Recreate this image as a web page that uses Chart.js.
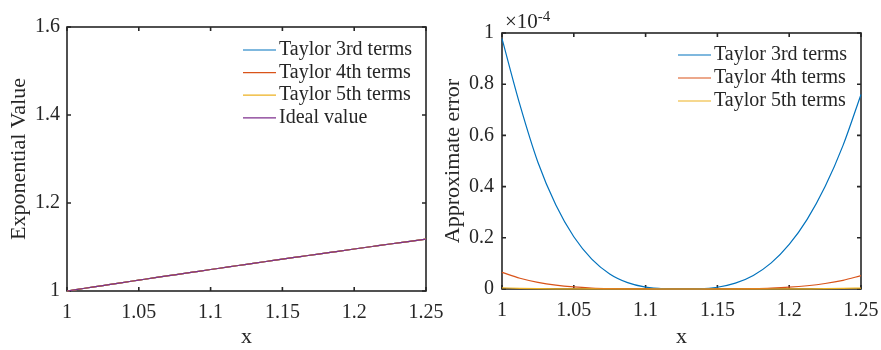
<!DOCTYPE html>
<html>
<head>
<meta charset="utf-8">
<script src="https://cdn.jsdelivr.net/npm/chart.js@4.4.0/dist/chart.umd.min.js"></script>
<style>
  html, body { margin: 0; padding: 0; background: #fff; }
  #wrap { position: relative; width: 881px; height: 350px; overflow: hidden; }
  #leftBox { position: absolute; left: 0; top: 0; width: 460px; height: 350px; }
  #rightBox { position: absolute; left: 440px; top: 0; width: 441px; height: 350px; }
</style>
</head>
<body>
<div id="wrap">
  <div id="leftBox"><canvas id="leftChart" width="460" height="350"></canvas></div>
  <div id="rightBox"><canvas id="rightChart" width="441" height="350"></canvas></div>
</div>
<script>
// sample points along x (same for both panels)
var xValues = [1.0000, 1.0125, 1.0250, 1.0375, 1.0500, 1.0625, 1.0750, 1.0875, 1.1000, 1.1125, 1.1250,
               1.1375, 1.1500, 1.1625, 1.1750, 1.1875, 1.2000, 1.2125, 1.2250, 1.2375, 1.2500];

// left panel: all four curves coincide at this scale
var idealValue = [1.0000, 1.0062, 1.0124, 1.0186, 1.0247, 1.0308, 1.0368, 1.0428, 1.0488, 1.0547, 1.0607,
                  1.0665, 1.0724, 1.0782, 1.0840, 1.0897, 1.0954, 1.1011, 1.1068, 1.1124, 1.1180];
var taylor3Value = idealValue;
var taylor4Value = idealValue;
var taylor5Value = idealValue;

// right panel: absolute error, in units of 1e-4
var errTaylor3 = [0.978, 0.719, 0.495, 0.328, 0.204, 0.117, 0.059, 0.025, 0.0073, 0.0009, 0.0,
                  0.0008, 0.0069, 0.0228, 0.053, 0.102, 0.174, 0.272, 0.400, 0.561, 0.760];
var errTaylor4 = [0.065, 0.042, 0.026, 0.015, 0.008, 0.0038, 0.0016, 0.0005, 0.0001, 0.0, 0.0,
                  0.0, 0.0001, 0.0004, 0.0014, 0.0034, 0.0070, 0.0128, 0.0215, 0.0340, 0.052];
var errTaylor5 = [0.0045, 0.0026, 0.0015, 0.0008, 0.0004, 0.0001, 0.00005, 0.0, 0.0, 0.0, 0.0,
                  0.0, 0.0, 0.0, 0.0, 0.00005, 0.0003, 0.0007, 0.0012, 0.0022, 0.0035];

var leftTicksX = { min: 1, max: 1.25, step: 0.05 };
var leftTicksY = { min: 1, max: 1.6, step: 0.2 };
var rightTicksY = { min: 0, max: 1, step: 0.2 };

var BLUE = '#0072BD', ORANGE = '#D95319', YELLOW = '#EDB120', PURPLE = '#7E2F8E';
var INK = '#262626';
var SERIF = "'Liberation Serif', 'Times New Roman', serif";

Chart.defaults.font.family = SERIF;
Chart.defaults.color = INK;

function pts(arr) {
  return xValues.map(function(x, i) { return { x: x, y: arr[i] }; });
}
function fmt(v) {
  return String(Math.round(v * 100) / 100);
}
function line(label, arr, color, order) {
  return {
    label: label, data: pts(arr), borderColor: color, backgroundColor: color,
    borderWidth: 1.2, pointRadius: 0, fill: false, order: order,
    cubicInterpolationMode: 'monotone', clip: false
  };
}

// matlab style box with inward ticks
var axesBox = {
  id: 'axesBox',
  beforeDatasetsDraw: function(chart) {
    var a = chart.chartArea, ctx = chart.ctx;
    var xs = chart.scales.x, ys = chart.scales.y;
    ctx.save();
    ctx.strokeStyle = INK;
    ctx.lineWidth = 1.6;
    ctx.strokeRect(a.left, a.top, a.right - a.left, a.bottom - a.top);
    ctx.beginPath();
    xs.ticks.forEach(function(t) {
      var px = xs.getPixelForValue(t.value);
      ctx.moveTo(px, a.bottom); ctx.lineTo(px, a.bottom - 4);
      ctx.moveTo(px, a.top); ctx.lineTo(px, a.top + 4);
    });
    ys.ticks.forEach(function(t) {
      var py = ys.getPixelForValue(t.value);
      ctx.moveTo(a.left, py); ctx.lineTo(a.left + 4, py);
      ctx.moveTo(a.right, py); ctx.lineTo(a.right - 4, py);
    });
    ctx.stroke();
    ctx.restore();
  }
};

// legend without box, drawn inside the axes
var boxLegend = {
  id: 'boxLegend',
  afterDraw: function(chart, args, opts) {
    var ctx = chart.ctx;
    ctx.save();
    ctx.font = '20px ' + SERIF;
    ctx.textBaseline = 'middle';
    ctx.textAlign = 'left';
    chart.data.datasets.forEach(function(ds, i) {
      var y = opts.y + i * opts.dy;
      ctx.strokeStyle = ds.borderColor;
      ctx.lineWidth = 1.2;
      ctx.beginPath();
      ctx.moveTo(opts.x, y); ctx.lineTo(opts.x + 33, y);
      ctx.stroke();
      ctx.fillStyle = INK;
      ctx.fillText(ds.label, opts.x + 36, y);
    });
    if (opts.exponent) {
      ctx.font = '21px ' + SERIF;
      ctx.textBaseline = 'alphabetic';
      ctx.fillText('\u00d710', opts.exponent.x, opts.exponent.y);
      var w = ctx.measureText('\u00d710').width;
      ctx.font = '15px ' + SERIF;
      ctx.fillText('-4', opts.exponent.x + w, opts.exponent.y - 7);
    }
    ctx.restore();
  }
};

function xScale(height) {
  return {
    type: 'linear', min: leftTicksX.min, max: leftTicksX.max,
    ticks: { stepSize: leftTicksX.step, padding: 10, font: { size: 20 }, color: INK,
             maxRotation: 0, autoSkip: false, callback: fmt },
    grid: { display: false, drawTicks: false },
    border: { display: false },
    title: { display: true, text: 'x', font: { size: 22 }, color: INK, padding: { top: 0, bottom: 0 } },
    afterFit: function(s) { s.height = height; s.paddingLeft = 0; s.paddingRight = 0; }
  };
}
function yScale(t, width, title, titlePad, labelPad) {
  return {
    type: 'linear', min: t.min, max: t.max,
    ticks: { stepSize: t.step, padding: labelPad, font: { size: 20 }, color: INK, callback: fmt },
    grid: { display: false, drawTicks: false },
    border: { display: false },
    title: { display: true, text: title, font: { size: 22 }, color: INK, padding: { top: titlePad, bottom: 0 } },
    afterFit: function(s) { s.width = width; s.paddingTop = 0; s.paddingBottom = 0; }
  };
}

new Chart(document.getElementById('leftChart'), {
  type: 'line',
  data: {
    datasets: [
      line('Taylor 3rd terms', taylor3Value, BLUE, 3),
      line('Taylor 4th terms', taylor4Value, ORANGE, 2),
      line('Taylor 5th terms', taylor5Value, YELLOW, 1),
      line('Ideal value', idealValue, PURPLE, 0)
    ]
  },
  options: {
    responsive: false,
    animation: false,
    layout: { padding: { left: 0, top: 27, right: 34, bottom: 0 } },
    scales: {
      x: xScale(59),
      y: yScale(leftTicksY, 67, 'Exponential Value', 6, 7)
    },
    plugins: {
      legend: { display: false },
      tooltip: { enabled: false },
      boxLegend: { x: 243, y: 50, dy: 22.6 }
    }
  },
  plugins: [axesBox, boxLegend]
});

new Chart(document.getElementById('rightChart'), {
  type: 'line',
  data: {
    datasets: [
      line('Taylor 3rd terms', errTaylor3, BLUE, 2),
      line('Taylor 4th terms', errTaylor4, ORANGE, 1),
      line('Taylor 5th terms', errTaylor5, YELLOW, 0)
    ]
  },
  options: {
    responsive: false,
    animation: false,
    layout: { padding: { left: 0, top: 33, right: 20, bottom: 0 } },
    scales: {
      x: xScale(61),
      y: yScale(rightTicksY, 62, 'Approximate error', 0, 8)
    },
    plugins: {
      legend: { display: false },
      tooltip: { enabled: false },
      boxLegend: { x: 238, y: 55, dy: 23, exponent: { x: 65, y: 28 } }
    }
  },
  plugins: [axesBox, boxLegend]
});
</script>
</body>
</html>
